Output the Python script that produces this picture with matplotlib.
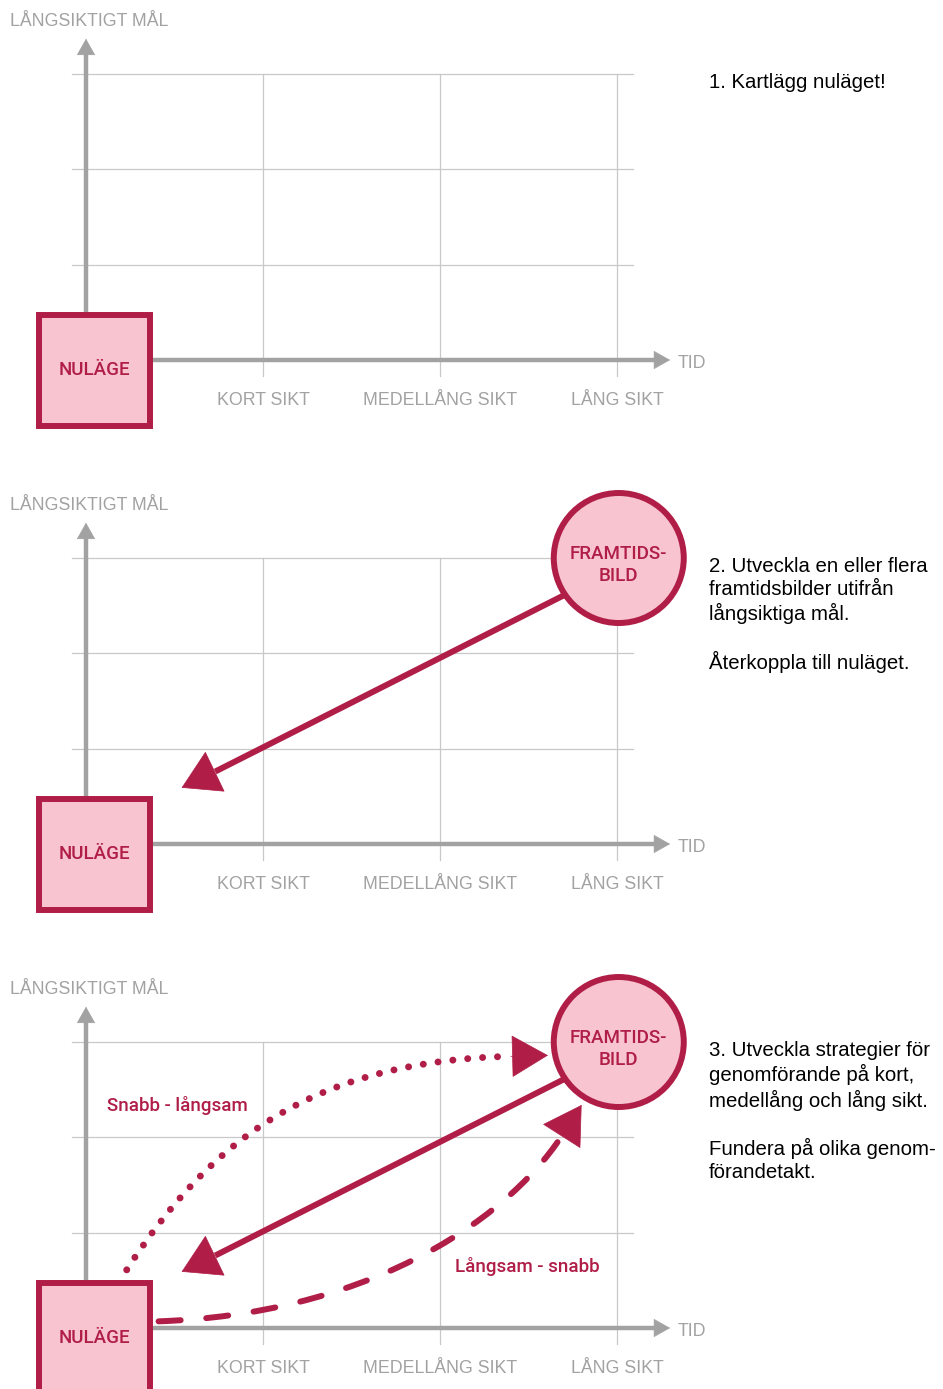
import matplotlib
matplotlib.use("Agg")
import matplotlib.pyplot as plt
from matplotlib.patches import Rectangle, Ellipse, FancyArrowPatch, PathPatch
from matplotlib.path import Path

plt.rcParams['font.family'] = ['Liberation Sans', 'DejaVu Sans']

# ---- texts ----
y_label = "LÅNGSIKTIGT MÅL"
x_label = "TID"
time_ticks = ["KORT SIKT", "MEDELLÅNG SIKT", "LÅNG SIKT"]
tick_pos = [1, 2, 3]
grid_levels = [1, 2, 3]
now_label = "NULÄGE"
future_label = "FRAMTIDS-\nBILD"
steps = [
    "1. Kartlägg nuläget!",
    "2. Utveckla en eller flera\nframtidsbilder utifrån\nlångsiktiga mål.\n\nÅterkoppla till nuläget.",
    "3. Utveckla strategier för\ngenomförande på kort,\nmedellång och lång sikt.\n\nFundera på olika genom-\nförandetakt.",
]
path_labels = ["Snabb - långsam", "Långsam - snabb"]

# ---- diagram points, in (time, level) units ----
future_pos = (3.01, 3.0)
back_arrow = [(3.01, 2.90), (0.73, 0.76)]      # start, base of head
back_tip = (0.54, 0.59)
fast_slow = [(0.23, 0.61), (0.69, 1.94), (1.27, 2.80), (2.40, 2.85)]
fast_slow_tip = (2.61, 2.86)
slow_fast = [(0.41, 0.07), (1.54, 0.14), (2.35, 1.06), (2.69, 2.02)]
slow_fast_tip = (2.80, 2.34)

RED = '#b01e48'
PINK = '#f7c4d0'
GREY = '#a2a2a2'
GRID = '#c8c8c8'
RED_FONT = ['Roboto', 'Liberation Sans', 'DejaVu Sans']

W, H, PH = 943, 1389, 484     # figure size and panel height in px
XS, YS = 177.0, 95.33         # px per unit
X0, Y0 = 86, 360              # origin inside a panel, px


def head(ax, base, tip, length, half, color, z=5):
    ax.add_patch(FancyArrowPatch(base, tip, shrinkA=0, shrinkB=0, mutation_scale=1,
                                 arrowstyle=f"-|>,head_length={length},head_width={half}",
                                 color=color, lw=0.5, zorder=z))


def bezier(ax, pts, ls, lw):
    codes = [Path.MOVETO, Path.CURVE4, Path.CURVE4, Path.CURVE4]
    p = PathPatch(Path(pts, codes), fill=False, edgecolor=RED, lw=lw, ls=ls,
                  capstyle='round', zorder=4)
    ax.add_patch(p)


fig = plt.figure(figsize=(W / 100, H / 100), dpi=100)

for i in range(3):
    ax = fig.add_axes([0, 1 - PH * (i + 1) / H, 1, PH / H])
    ax.set_xlim(-X0 / XS, (W - X0) / XS)
    ax.set_ylim((Y0 - PH) / YS, Y0 / YS)
    ax.axis('off')

    # grid
    for lv in grid_levels:
        ax.plot([-0.08, 3.09], [lv, lv], color=GRID, lw=0.9, zorder=1)
    for t in tick_pos:
        ax.plot([t, t], [-0.17, 3.0], color=GRID, lw=0.9, zorder=1)

    # axes with arrows
    ax.plot([0, 0], [0, 3.21], color=GREY, lw=3.2, solid_capstyle='butt', zorder=2)
    head(ax, (0, 3.21), (0, 3.37), 11, 6.2, GREY, z=2)
    ax.plot([0.3, 3.215], [0, 0], color=GREY, lw=3.2, solid_capstyle='butt', zorder=2)
    head(ax, (3.215, 0), (3.30, 0), 11, 6.2, GREY, z=2)

    ax.text(-76 / XS, 3.556, y_label, color=GREY, fontsize=12.8, va='center', ha='left')
    ax.text(3.345, -0.04, x_label, color=GREY, fontsize=12.8, va='center', ha='left')
    for t, lab in zip(tick_pos, time_ticks):
        ax.text(t, -0.43, lab, color=GREY, fontsize=12.8, va='center', ha='center')

    # now box
    ax.add_patch(Rectangle((-47 / XS, -66 / YS), 111 / XS, 111 / YS, facecolor=PINK,
                           edgecolor=RED, lw=4.3, joinstyle='miter', zorder=6))
    ax.text(8.5 / XS, -10 / YS, now_label, color=RED, fontsize=13.5, ha='center',
            va='center', family=RED_FONT, weight='medium', zorder=7)

    ax.text(3.52, 3.01, steps[i], color='black', fontsize=14.7, ha='left', va='top',
            linespacing=1.25)

    if i == 0:
        continue

    # future image circle and arrow back
    ax.add_patch(Ellipse(future_pos, 130 / XS, 130 / YS, facecolor=PINK, edgecolor=RED,
                         lw=4.3, zorder=6))
    ax.text(future_pos[0], future_pos[1] - 0.07, future_label, color=RED,
            fontsize=13.5, ha='center', va='center', linespacing=1.3,
            family=RED_FONT, weight='medium', zorder=7)
    ax.plot([p[0] for p in back_arrow], [p[1] for p in back_arrow], color=RED, lw=4.3,
            solid_capstyle='butt', zorder=5)
    head(ax, back_arrow[1], back_tip, 26, 15.5, RED)

    if i == 1:
        continue

    bezier(ax, fast_slow, (0, (0.01, 2.14)), 5.0)
    head(ax, fast_slow[-1], fast_slow_tip, 25, 14.5, RED)
    bezier(ax, slow_fast, (0, (3.7, 4.3)), 4.3)
    head(ax, slow_fast[-1], slow_fast_tip, 26, 15.5, RED)

    ax.text(21 / XS, 2.329, path_labels[0], color=RED, fontsize=13.5, ha='left',
            va='center', family=RED_FONT, weight='medium')
    ax.text(369 / XS, 0.65, path_labels[1], color=RED, fontsize=13.5, ha='left',
            va='center', family=RED_FONT, weight='medium')

fig.savefig('out.png', dpi=100)
